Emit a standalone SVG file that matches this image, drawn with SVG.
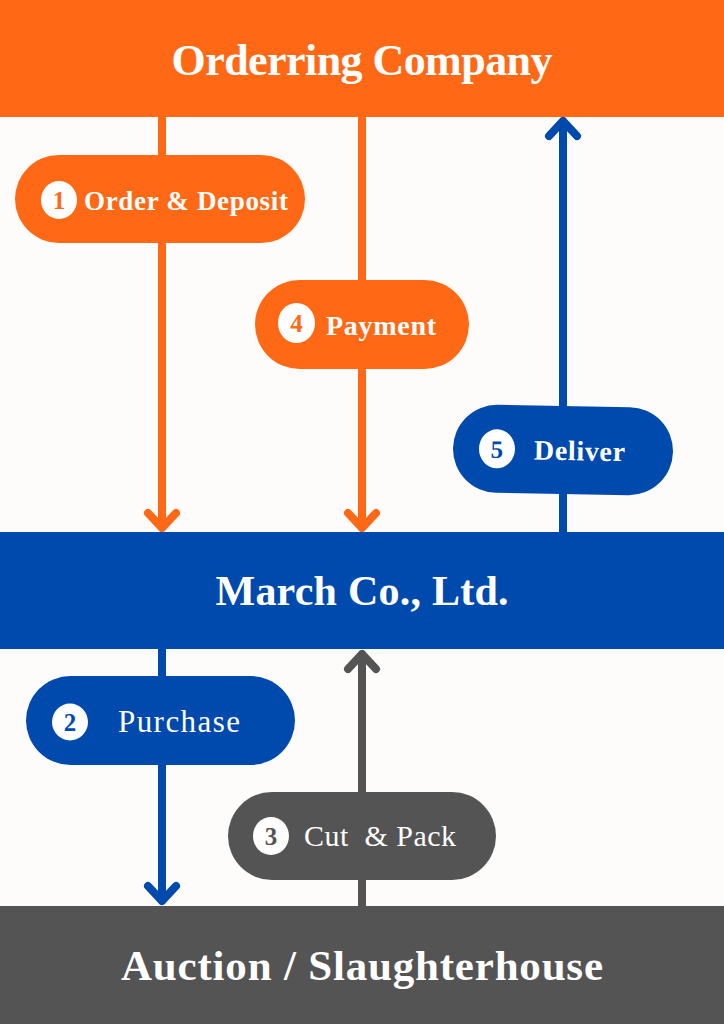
<svg xmlns="http://www.w3.org/2000/svg" width="724" height="1024" viewBox="0 0 724 1024">
<style>
.band-t{font-family:"Liberation Serif","DejaVu Serif",serif;fill:#ffffff;text-anchor:middle}
.lbl{font-family:"Liberation Serif","DejaVu Serif",serif;fill:#ffffff}
.num{font-family:"Liberation Serif","DejaVu Serif",serif;font-weight:700;font-size:25px;text-anchor:middle}
.ln{fill:none;stroke-width:8;stroke-linecap:round;stroke-linejoin:round}
.o{stroke:#FF6915}.b{stroke:#004AAD}.g{stroke:#545454}
</style>
<rect width="724" height="1024" fill="#FDFCFA"/>
<g id="connectors">
  <path class="ln o" d="M162 117V528M148 513L162 528L176 513"/>
  <path class="ln o" d="M362 117V528M348 513L362 528L376 513"/>
  <path class="ln b" d="M563 532V121M549 136L563 121L577 136"/>
  <path class="ln b" d="M162 648V901M148 886L162 901L176 886"/>
  <path class="ln g" d="M362 906V654M348 669L362 654L376 669"/>
</g>
<g id="ordering-company">
  <rect x="0" y="0" width="724" height="117" fill="#FF6915"/>
  <text class="band-t" x="362" y="75" font-size="44" font-weight="700" textLength="381" lengthAdjust="spacing">Orderring Company</text>
</g>
<g id="march">
  <rect x="0" y="532" width="724" height="117" fill="#004AAD"/>
  <text class="band-t" x="362" y="605" font-size="42" font-weight="700" textLength="293" lengthAdjust="spacing">March Co., Ltd.</text>
</g>
<g id="auction">
  <rect x="0" y="906" width="724" height="118" fill="#545454"/>
  <text class="band-t" x="362" y="980" font-size="43" font-weight="700" textLength="482" lengthAdjust="spacing">Auction / Slaughterhouse</text>
</g>
<g id="step1">
  <rect x="15" y="155" width="290" height="88" rx="44" fill="#FF6915"/>
  <ellipse cx="59" cy="200" rx="18" ry="19" fill="#ffffff"/>
  <text class="num" x="59" y="209" fill="#FF6915" font-weight="400">1</text>
  <text class="lbl" x="84" y="210" font-size="27" font-weight="700" textLength="204" lengthAdjust="spacing">Order &amp; Deposit</text>
</g>
<g id="step4">
  <rect x="255" y="280" width="214" height="89" rx="44.5" fill="#FF6915"/>
  <ellipse cx="296.5" cy="323" rx="18.5" ry="20" fill="#ffffff"/>
  <text class="num" x="296.5" y="332" fill="#FF6915" font-weight="400">4</text>
  <text class="lbl" x="326" y="335" font-size="28" font-weight="700" textLength="110" lengthAdjust="spacing">Payment</text>
</g>
<g id="step5" transform="rotate(1 563 450)">
  <rect x="453" y="406" width="220" height="88" rx="44" fill="#004AAD"/>
  <ellipse cx="497" cy="450" rx="18" ry="19.5" fill="#ffffff"/>
  <text class="num" x="497" y="459" fill="#004AAD">5</text>
  <text class="lbl" x="534" y="460" font-size="28" font-weight="700" textLength="91" lengthAdjust="spacing">Deliver</text>
</g>
<g id="step2">
  <rect x="26" y="676" width="269" height="89" rx="44.5" fill="#004AAD"/>
  <ellipse cx="70" cy="722" rx="18" ry="18.5" fill="#ffffff"/>
  <text class="num" x="70" y="731" fill="#004AAD">2</text>
  <text class="lbl" x="118" y="732" font-size="31" textLength="122" lengthAdjust="spacing">Purchase</text>
</g>
<g id="step3">
  <rect x="228" y="792" width="268" height="88" rx="44" fill="#545454"/>
  <ellipse cx="271" cy="836" rx="18" ry="19" fill="#ffffff"/>
  <text class="num" x="271" y="845" fill="#545454">3</text>
  <text class="lbl" x="304" y="846" font-size="30" xml:space="preserve" textLength="152" lengthAdjust="spacing">Cut  &amp; Pack</text>
</g>
</svg>
